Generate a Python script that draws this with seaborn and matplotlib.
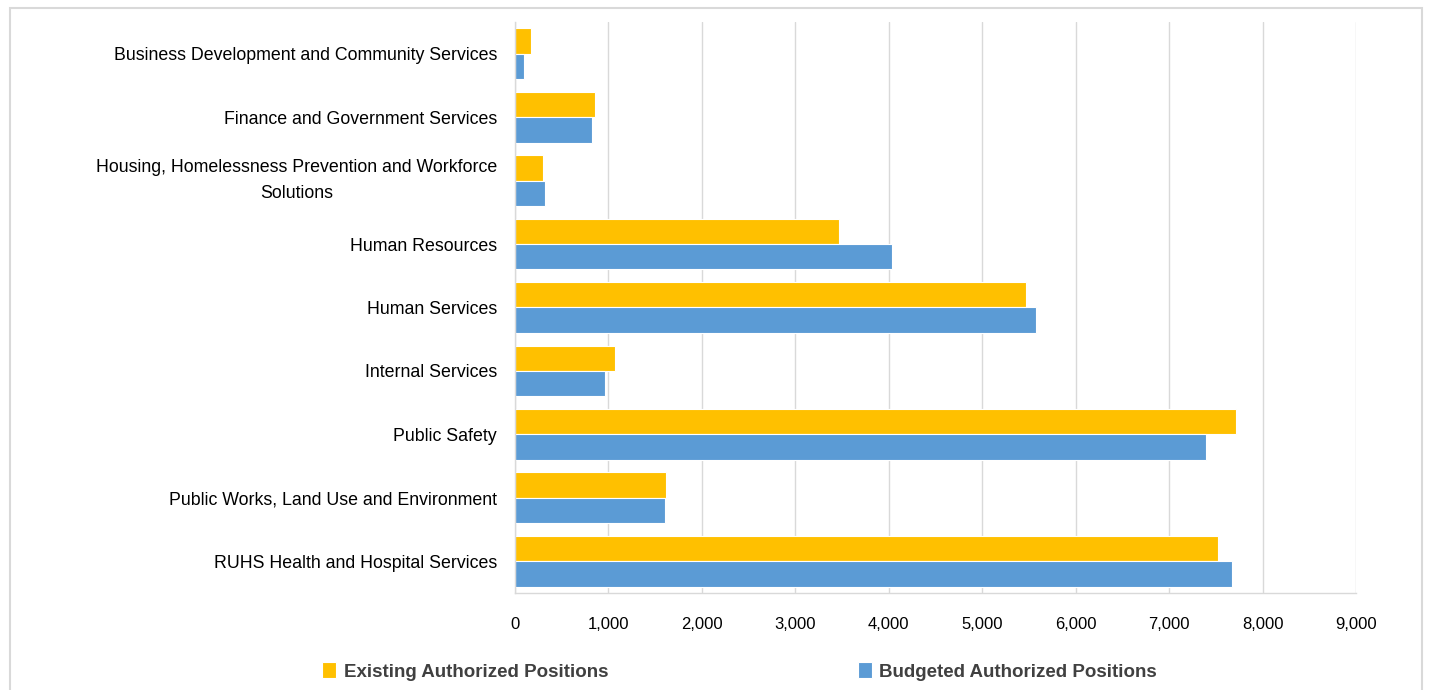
import numpy as np
import pandas as pd
import matplotlib
matplotlib.use("Agg")
import matplotlib.pyplot as plt
from matplotlib.patches import Rectangle
import seaborn as sns

# -------------------------------
# DATA
# -------------------------------
categories = [
    "Business Development and Community Services",
    "Finance and Government Services",
    "Housing, Homelessness Prevention and Workforce\nSolutions",
    "Human Resources",
    "Human Services",
    "Internal Services",
    "Public Safety",
    "Public Works, Land Use and Environment",
    "RUHS Health and Hospital Services",
]
existing = [171, 856, 300, 3467, 5469, 1070, 7716, 1616, 7523]
budgeted = [96, 824, 321, 4035, 5576, 963, 7395, 1605, 7673]
series_names = ["Existing Authorized Positions", "Budgeted Authorized Positions"]
colors = ["#FFC000", "#5B9BD5"]
tick_values = list(range(0, 9001, 1000))

df = pd.DataFrame({
    "Category": categories * 2,
    "Positions": existing + budgeted,
    "Series": [series_names[0]] * len(categories) + [series_names[1]] * len(categories),
})

# -------------------------------
# PLOT
# -------------------------------
sns.set_style("white")
plt.rcParams["font.family"] = ["Liberation Sans", "DejaVu Sans"]

fig = plt.figure(figsize=(14.29, 6.90), dpi=100)
ax = fig.add_axes([0.3604, 0.1406, 0.5885, 0.8275])

sns.barplot(data=df, y="Category", x="Positions", hue="Series", orient="h",
            palette=colors, saturation=1, width=0.8, ax=ax,
            edgecolor="white", linewidth=0.8, legend=True)

ax.set_xlim(0, 9000)
ax.set_xticks(tick_values)
ax.set_xticklabels([f"{v:,}" for v in tick_values])
ax.xaxis.grid(True, color="#D9D9D9", linewidth=1)
ax.set_axisbelow(True)
ax.set_xlabel("")
ax.set_ylabel("")
ax.tick_params(axis="x", length=0, pad=17, labelsize=12, labelcolor="#000000")
ax.tick_params(axis="y", length=0, pad=13, labelsize=12.8, labelcolor="#000000")
for lab in ax.get_yticklabels():
    if "\n" in lab.get_text():
        # wrapped label: centre lines on each other and on the bar pair
        lab.set_multialignment("center")
        lab.set_linespacing(1.75)
        lab.set_va("center")

for side in ["top", "right"]:
    ax.spines[side].set_visible(False)
for side in ["left", "bottom"]:
    ax.spines[side].set_color("#D9D9D9")
    ax.spines[side].set_linewidth(1)

handles, labels = ax.get_legend_handles_labels()
ax.get_legend().remove()
fig.legend(handles, labels, loc="center", bbox_to_anchor=(0.5175, 0.027), ncol=2,
           frameon=False, handlelength=0.75, handleheight=0.95, handletextpad=0.4,
           columnspacing=13.3, prop={"size": 13.5, "weight": "bold"},
           labelcolor="#404040")

# outer chart frame
fig.patches.append(Rectangle((10 / 1429, -0.01), 1412 / 1429, 0.998,
                             transform=fig.transFigure, fill=False,
                             edgecolor="#D9D9D9", linewidth=1.5))

fig.savefig("out.png", dpi=100)
